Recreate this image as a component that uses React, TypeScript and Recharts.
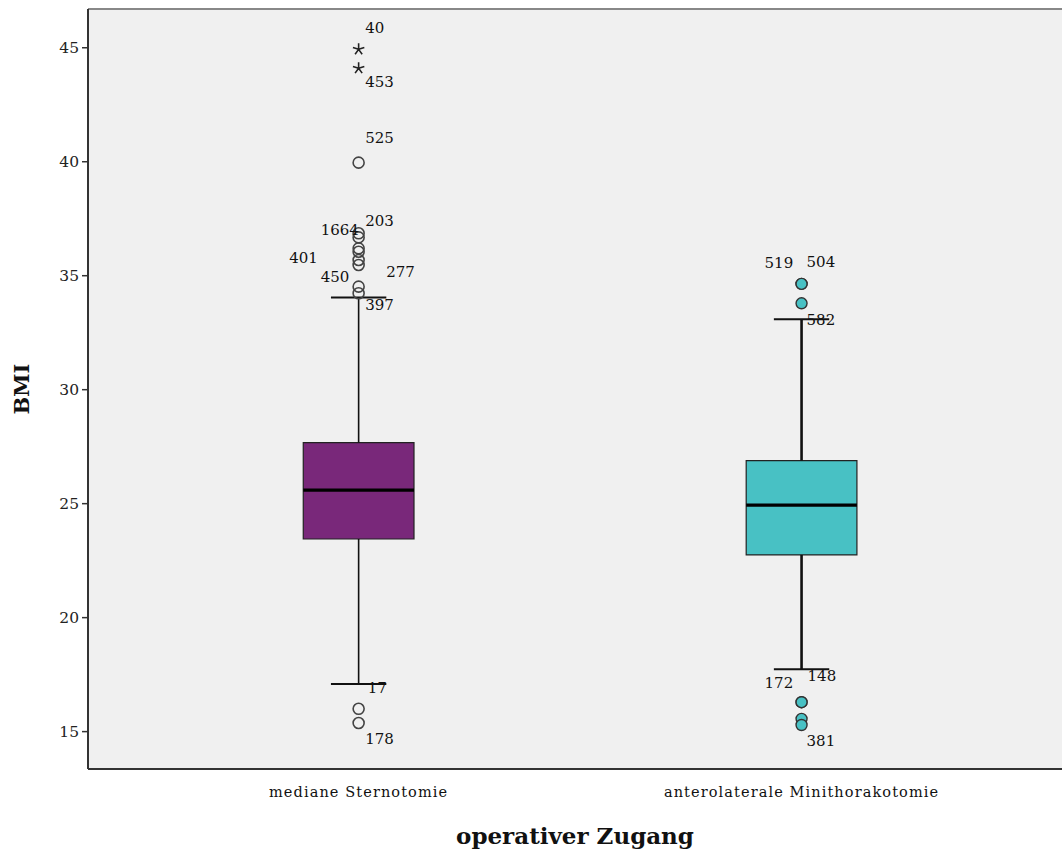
import {
  ComposedChart,
  XAxis,
  YAxis,
  CartesianGrid,
  ReferenceArea,
  ReferenceLine,
  Scatter,
} from "recharts"

const CATEGORIES = ["mediane Sternotomie", "anterolaterale Minithorakotomie"]
const Q1 = [23.45, 22.75]
const MEDIAN = [25.59, 24.94]
const Q3 = [27.68, 26.89]
const WHISKER_LOW = [17.09, 17.74]
const WHISKER_HIGH = [34.04, 33.09]

const OUTLIERS_STERNO = [44.93, 44.1, 39.96, 36.86, 36.68, 36.2, 36.05, 35.69, 35.47, 34.52, 34.23, 16.0, 15.38]
const CASES_STERNO = ["40", "453", "525", "203", "1664", "401", "", "277", "", "450", "397", "17", "178"]
const OUTLIERS_MINI = [34.64, 34.64, 33.79, 16.29, 16.29, 15.56, 15.29]
const CASES_MINI = ["519", "504", "582", "172", "148", "", "381"]

const Y_TICKS = [15, 20, 25, 30, 35, 40, 45]

// where each case label sits relative to its marker (px)
const LABEL_OFFSET: Record<string, [number, number]> = {
  "40": [6.5, -21.6],
  "453": [6.5, 13.4],
  "525": [6.5, -24.4],
  "203": [6.5, -12.3],
  "1664": [-38, -7.3],
  "401": [-69.5, 9.4],
  "277": [27.5, 11.7],
  "450": [-38, -10],
  "397": [6.5, 11.7],
  "17": [9, -20.7],
  "178": [6.5, 16],
  "519": [-37, -21.3],
  "504": [5, -22.3],
  "582": [5, 16.7],
  "172": [-37, -19.6],
  "148": [6, -26.3],
  "381": [5, 15.7],
}

const FILLS = ["#79287A", "#48C1C4"]
const FONT = "'DejaVu Serif', serif"

const isExtreme = (g: number, v: number) => {
  const iqr = Q3[g] - Q1[g]
  return v > Q3[g] + 3 * iqr || v < Q1[g] - 3 * iqr
}

const buildPoints = (g: number, values: number[], cases: string[]) =>
  values.map((v, i) => ({ x: g + 1, y: v, id: cases[i], group: g, star: isExtreme(g, v) }))

const points = [
  ...buildPoints(0, OUTLIERS_STERNO, CASES_STERNO),
  ...buildPoints(1, OUTLIERS_MINI, CASES_MINI),
]

const OutlierShape = (props: any) => {
  const { cx, cy, payload } = props
  const off = LABEL_OFFSET[payload.id]
  let mark
  if (payload.star) {
    const arms = [0, 1, 2, 3, 4].map((k) => {
      const a = ((-90 + k * 72) * Math.PI) / 180
      return `M${cx},${cy}L${cx + 6 * Math.cos(a)},${cy + 6 * Math.sin(a)}`
    })
    mark = <path d={arms.join("")} stroke="#222" strokeWidth={1.6} fill="none" />
  } else if (payload.group === 0) {
    mark = <circle cx={cx} cy={cy} r={5.5} fill="none" stroke="#444" strokeWidth={1.6} />
  } else {
    mark = <circle cx={cx} cy={cy} r={5.5} fill={FILLS[1]} stroke="#333" strokeWidth={1.4} />
  }
  return (
    <g>
      {mark}
      {off && (
        <text
          x={cx + off[0]}
          y={cy + off[1]}
          dominantBaseline="central"
          fontFamily={FONT}
          fontSize={15}
          fill="#111"
        >
          {payload.id}
        </text>
      )}
    </g>
  )
}

const CategoryTick = (props: any) => {
  const { x, y, payload } = props
  return (
    <text
      x={x}
      y={y}
      dy={20}
      textAnchor="middle"
      fontFamily={FONT}
      fontSize={14.5}
      letterSpacing={1.1}
      fill="#111"
    >
      {CATEGORIES[payload.value - 1]}
    </text>
  )
}

export default function App() {
  return (
    <div style={{ width: 1062, height: 852 }}>
      <style>{"body{margin:0;overflow:hidden;background:#fff}"}</style>
      <ComposedChart
        width={1062}
        height={852}
        data={points}
        margin={{ top: 9, right: 0, bottom: 0, left: 0 }}
      >
        <CartesianGrid fill="#F0F0F0" horizontal={false} vertical={false} />
        <XAxis
          type="number"
          dataKey="x"
          domain={[0.389, 2.588]}
          ticks={[1, 2]}
          height={83}
          tickLine={false}
          axisLine={{ stroke: "#333", strokeWidth: 2 }}
          tick={<CategoryTick />}
          allowDataOverflow
          label={{
            value: "operativer Zugang",
            position: "center",
            dy: 25,
            style: { fontFamily: FONT, fontSize: 23, fontWeight: "bold", fill: "#111" },
          }}
        />
        <YAxis
          type="number"
          domain={[13.36, 46.7]}
          ticks={Y_TICKS}
          width={88}
          allowDataOverflow
          tickSize={6}
          tickMargin={3}
          tickLine={{ stroke: "#333", strokeWidth: 1.5 }}
          axisLine={{ stroke: "#333", strokeWidth: 2 }}
          tick={{ fontFamily: FONT, fontSize: 15.5, fill: "#222" }}
          label={{
            value: "BMI",
            angle: -90,
            position: "center",
            dx: -22,
            style: { fontFamily: FONT, fontSize: 21, fontWeight: "bold", fill: "#111" },
          }}
        />
        <ReferenceLine y={46.7} stroke="#888" strokeWidth={2} />
        {CATEGORIES.map((_, g) => (
          <ReferenceLine
            key={`wh${g}`}
            segment={[{ x: g + 1, y: WHISKER_HIGH[g] }, { x: g + 1, y: Q3[g] }]}
            stroke="#111"
            strokeWidth={g === 0 ? 1.6 : 2.6}
          />
        ))}
        {CATEGORIES.map((_, g) => (
          <ReferenceLine
            key={`wl${g}`}
            segment={[{ x: g + 1, y: WHISKER_LOW[g] }, { x: g + 1, y: Q1[g] }]}
            stroke="#111"
            strokeWidth={g === 0 ? 1.6 : 2.6}
          />
        ))}
        {CATEGORIES.map((_, g) => (
          <ReferenceLine
            key={`ch${g}`}
            segment={[{ x: g + 0.9375, y: WHISKER_HIGH[g] }, { x: g + 1.0625, y: WHISKER_HIGH[g] }]}
            stroke="#111"
            strokeWidth={2}
          />
        ))}
        {CATEGORIES.map((_, g) => (
          <ReferenceLine
            key={`cl${g}`}
            segment={[{ x: g + 0.9375, y: WHISKER_LOW[g] }, { x: g + 1.0625, y: WHISKER_LOW[g] }]}
            stroke="#111"
            strokeWidth={2}
          />
        ))}
        {CATEGORIES.map((_, g) => (
          <ReferenceArea
            key={`box${g}`}
            x1={g + 0.875}
            x2={g + 1.125}
            y1={Q1[g]}
            y2={Q3[g]}
            fill={FILLS[g]}
            fillOpacity={1}
            stroke="#222"
            strokeWidth={1.2}
          />
        ))}
        {CATEGORIES.map((_, g) => (
          <ReferenceLine
            key={`med${g}`}
            segment={[{ x: g + 0.875, y: MEDIAN[g] }, { x: g + 1.125, y: MEDIAN[g] }]}
            stroke="#000"
            strokeWidth={3.2}
          />
        ))}
        <Scatter dataKey="y" isAnimationActive={false} shape={<OutlierShape />} />
      </ComposedChart>
    </div>
  )
}
